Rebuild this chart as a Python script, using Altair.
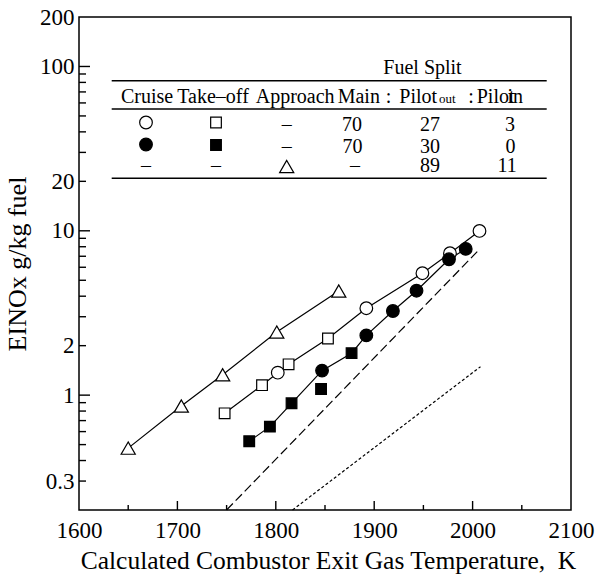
import math
import altair as alt
import pandas as pd

# ---------------- data ----------------
# Fuel split 70 : 27 : 3  (open symbols)
open_sq_T = [1748, 1786, 1813, 1853]          # take-off
open_sq_E = [0.775, 1.15, 1.54, 2.21]
open_ci_T = [1802, 1892, 1949, 1977, 2007]    # cruise
open_ci_E = [1.37, 3.38, 5.52, 7.30, 9.98]
# Fuel split 70 : 30 : 0  (filled symbols)
fill_sq_T = [1773, 1794, 1816, 1846, 1877]
fill_sq_E = [0.524, 0.643, 0.892, 1.09, 1.80]
fill_sq_on_line = [True, True, True, False, True]
fill_ci_T = [1847, 1892, 1919, 1943, 1976, 1993]
fill_ci_E = [1.41, 2.31, 3.25, 4.32, 6.71, 7.76]
# Approach, fuel split - : 89 : 11  (triangles)
tri_T = [1650, 1704, 1746, 1801, 1864]
tri_E = [0.476, 0.859, 1.33, 2.42, 4.30]
# reference lines
dash_T = [1750, 2007]
dash_E = [0.2, 7.72]
dot_T = [1817, 2008]
dot_E = [0.2, 1.49]

x_labels = [1600, 1700, 1800, 1900, 2000, 2100]
y_labels = [0.3, 1, 2, 10, 20, 100, 200]
x_major_ticks = [1700.0, 1800.0, 1900.0, 2000.0]
x_minor_ticks = [1650.0, 1750.0, 1850.0, 1950.0, 2050.0]
y_major_ticks = [1.0, 10.0, 100.0]
y_minor_ticks = [0.3, 0.4, 0.5, 0.6, 0.7, 0.8, 0.9,
                 2.0, 3.0, 4.0, 5.0, 6.0, 7.0, 8.0, 9.0,
                 20.0, 30.0, 40.0, 50.0, 60.0, 70.0, 80.0, 90.0]

table_main = ["70", "70", "–"]
table_pilot_out = ["27", "30", "89"]
table_pilot_in = ["3", "0", "11"]

# ---------------- layout ----------------
L, T0 = 79, 17          # plot origin in the page
W, H = 492, 493
FONT = "Liberation Serif"
X_DOM = [1600, 2100]
Y_DOM = [0.2, 200]

xs = alt.Scale(domain=X_DOM, nice=False, zero=False)
ys = alt.Scale(type="log", domain=Y_DOM, nice=False)

xaxis = alt.Axis(
    values=x_labels, format="d", ticks=False, tickSize=0, domain=False, grid=False,
    labelFont=FONT, labelFontSize=23, labelColor="black", labelPadding=27,
    labelBaseline="alphabetic", labelFlush=False, labelOverlap=False,
    title="Calculated Combustor Exit Gas Temperature, \u00a0K",
    titleFont=FONT, titleFontSize=25.5, titleFontWeight="normal", titleColor="black",
    titleBaseline="alphabetic", titleY=58, titleX=249,
)
yaxis = alt.Axis(
    values=y_labels, format="~g", ticks=False, tickSize=0, domain=False, grid=False,
    labelFont=FONT, labelFontSize=23, labelColor="black", labelPadding=5,
    labelOverlap=False,
    title="EINOx g/kg fuel",
    titleFont=FONT, titleFontSize=26, titleFontWeight="normal", titleColor="black",
    titleBaseline="alphabetic", titleX=-54, titleY=H / 2,
)


def X():
    return alt.X("T:Q", scale=xs, axis=xaxis)


def Y():
    return alt.Y("E:Q", scale=ys, axis=yaxis)


def df(T, E):
    return pd.DataFrame({"T": T, "E": E})


LW = 1.2
TW = 1.4
layers = []

# connecting lines
open_line = df(open_sq_T + open_ci_T, open_sq_E + open_ci_E)
fill_line = df([t for t, k in zip(fill_sq_T, fill_sq_on_line) if k] + fill_ci_T,
               [e for e, k in zip(fill_sq_E, fill_sq_on_line) if k] + fill_ci_E)
for d in (open_line, fill_line, df(tri_T, tri_E)):
    layers.append(alt.Chart(d).mark_line(color="black", strokeWidth=LW).encode(x=X(), y=Y()))
layers.append(alt.Chart(df(dash_T, dash_E)).mark_line(color="black", strokeWidth=LW, strokeDash=[9, 4])
              .encode(x=X(), y=Y()))
layers.append(alt.Chart(df(dot_T, dot_E)).mark_line(color="black", strokeWidth=LW, strokeDash=[3, 2.2])
              .encode(x=X(), y=Y()))

SZ_C, SZ_S, SZ_T = 160, 114, 200


def pts(d, shape, fill, size):
    return alt.Chart(d).mark_point(shape=shape, filled=True, fill=fill, stroke="black",
                                   strokeWidth=1.2, size=size, opacity=1).encode(x=X(), y=Y())


layers.append(pts(df(tri_T, tri_E), "triangle-up", "white", SZ_T))
layers.append(pts(df(open_sq_T, open_sq_E), "square", "white", SZ_S))
layers.append(pts(df(open_ci_T, open_ci_E), "circle", "white", SZ_C))
layers.append(pts(df(fill_sq_T, fill_sq_E), "square", "black", SZ_S))
layers.append(pts(df(fill_ci_T, fill_ci_E), "circle", "black", SZ_C))

# ---------------- inward axis ticks (same mapping as the scales) ----------------
one = pd.DataFrame({"k": [0]})


def ypix(v):
    lo, hi = math.log10(Y_DOM[0]), math.log10(Y_DOM[1])
    return H - (math.log10(v) - lo) / (hi - lo) * H


def xpix(t):
    return (t - X_DOM[0]) / (X_DOM[1] - X_DOM[0]) * W


def ytick(v, length):
    return alt.Chart(one).mark_rule(color="black", strokeWidth=TW).encode(
        x=alt.value(0), x2=alt.value(length), y=alt.value(ypix(v)))


def xtick(t, length):
    return alt.Chart(one).mark_rule(color="black", strokeWidth=TW).encode(
        x=alt.value(xpix(t)), y=alt.value(H), y2=alt.value(H - length))


layers += [ytick(v, 11) for v in y_major_ticks]
layers += [ytick(v, 7) for v in y_minor_ticks]
layers += [xtick(t, 9) for t in x_major_ticks]
layers += [xtick(t, 5) for t in x_minor_ticks]

# ---------------- table inside the plot ----------------


def text_at(s, ax, ay, size=20, align="center"):
    return alt.Chart(one).mark_text(text=s, align=align, baseline="alphabetic", font=FONT,
                                    fontSize=size, color="black").encode(
        x=alt.value(ax - L), y=alt.value(ay - T0))


def sym_at(shape, fill, ax, ay, size):
    return alt.Chart(one).mark_point(shape=shape, filled=True, fill=fill, stroke="black",
                                     strokeWidth=1.2, size=size, opacity=1).encode(
        x=alt.value(ax - L), y=alt.value(ay - T0))


def hline(ay, x1=111.7, x2=546.7):
    return alt.Chart(one).mark_rule(color="black", strokeWidth=1.4).encode(
        x=alt.value(x1 - L), x2=alt.value(x2 - L), y=alt.value(ay - T0))


layers += [hline(80.7), hline(109), hline(178.3)]
layers.append(text_at("Fuel Split", 422.5, 73.5))
hdr_y = 103.3
layers += [
    text_at("Cruise", 121, hdr_y, align="left"),
    text_at("Take–off", 177.3, hdr_y, align="left"),
    text_at("Approach", 255.7, hdr_y, align="left"),
    text_at("Main", 337.7, hdr_y, align="left"),
    text_at(":", 388.5, hdr_y),
    text_at("Pilot", 399.3, hdr_y, align="left"),
    text_at("out", 439, hdr_y, size=13, align="left"),
    text_at(":", 471, hdr_y),
    text_at("Pilot", 476.7, hdr_y, align="left"),
    text_at("in", 507.5, hdr_y, align="left"),
]
row_base = [130.7, 152.7, 172.3]
col_main, col_out, col_in = [352, 352.5, 355], 430, [510, 510.5, 507]
for i in range(3):
    layers.append(text_at(table_main[i], col_main[i], row_base[i]))
    layers.append(text_at(table_pilot_out[i], col_out, row_base[i]))
    layers.append(text_at(table_pilot_in[i], col_in[i], row_base[i]))
layers += [
    sym_at("circle", "white", 146, 122.5, SZ_C),
    sym_at("square", "white", 216, 122.5, SZ_S),
    text_at("–", 286.7, row_base[0]),
    sym_at("circle", "black", 146, 144.5, SZ_C),
    sym_at("square", "black", 216, 145, SZ_S),
    text_at("–", 286.7, row_base[1]),
    text_at("–", 146, row_base[2]),
    text_at("–", 216, row_base[2]),
    sym_at("triangle-up", "white", 286.7, 166.5, SZ_T),
]

chart = alt.layer(*layers).properties(
    width=W, height=H,
    autosize=alt.AutoSizeParams(type="none"),
    padding={"left": L, "top": T0, "right": 597 - L - W, "bottom": 574 - T0 - H},
    background="white",
).configure_view(stroke="black", strokeWidth=1.5)

chart.save("out.html", embed_options={"renderer": "svg", "actions": False})
